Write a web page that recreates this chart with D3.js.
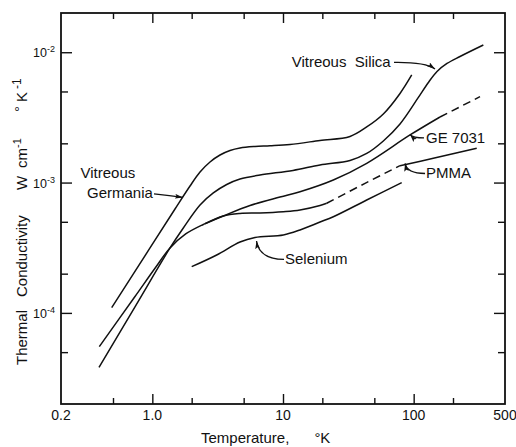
<!DOCTYPE html>
<html><head><meta charset="utf-8">
<script src="https://cdn.jsdelivr.net/npm/d3@7"></script>
<style>
body{margin:0;background:#fff;}
svg text{font-family:"Liberation Sans",Arial,sans-serif;fill:#111;}
</style></head>
<body><svg id="chart" width="516" height="447"></svg>
<script>
// ---------- data (T in K, conductivity in W cm^-1 K^-1) ----------
const germaniaT = [0.4888, 0.9598, 1.4911, 1.9427, 2.3171, 2.7634, 3.2959, 3.9309, 4.6881, 6.1067, 7.9543, 11.316, 19.199, 32.577, 43.712, 58.594, 78.627, 96.63];
const germaniaK = [1.0967e-4, 3.1492e-4, 6.2721e-4, 9.417e-4, 1.2058e-3, 1.4391e-3, 1.6282e-3, 1.7636e-3, 1.8432e-3, 1.8928e-3, 1.9163e-3, 1.9609e-3, 2.1039e-3, 2.2582e-3, 2.6709e-3, 3.3602e-3, 4.8278e-3, 6.6935e-3];

const silicaT = [0.3907, 0.7368, 1.3654, 1.7262, 2.3171, 2.9289, 3.7087, 4.6881, 6.6696, 11.93, 19.199, 32.577, 43.712, 58.594, 78.627, 107.97, 128.78, 150.92, 179.95, 226.35, 341.36];
const silicaK = [3.827e-5, 1.1143e-4, 3.1492e-4, 4.4835e-4, 6.7313e-4, 8.3218e-4, 9.67e-4, 1.0656e-3, 1.1436e-3, 1.2383e-3, 1.3648e-3, 1.4779e-3, 1.6725e-3, 2.0855e-3, 2.8159e-3, 4.4589e-3, 5.8104e-3, 7.1197e-3, 8.2006e-3, 9.2807e-3, 1.1369e-2];

const geT = [2.53, 3.4936, 5.592, 9.486, 13.497, 24.27, 43.712, 93.78, 159.1];
const geK = [4.83e-4, 5.5428e-4, 6.6715e-4, 7.75e-4, 8.51e-4, 1.047e-3, 1.406e-3, 2.318e-3, 3.186e-3];
const geDashT = [159.1, 321.9];
const geDashK = [3.186e-3, 4.561e-3];

const pmmaT = [0.3928, 0.7368, 1.0482, 1.3654, 1.8007, 2.4554, 3.4936, 4.6881, 6.6696, 10.055, 13.497, 19.199, 21.606];
const pmmaK = [5.507e-5, 1.3366e-4, 2.2006e-4, 3.1492e-4, 4.0332e-4, 4.7713e-4, 5.5428e-4, 5.7927e-4, 5.8441e-4, 5.9797e-4, 6.1623e-4, 6.6715e-4, 6.9359e-4];
const pmmaDashT = [21.606, 42.44, 78.627];
const pmmaDashK = [6.9359e-4, 9.86e-4, 1.348e-3];
const pmmaHighT = [78.627, 141.4, 303.8];
const pmmaHighK = [1.348e-3, 1.536e-3, 1.833e-3];

const seleniumT = [2.001, 3.109, 4.688, 6.107, 10.06, 13.5, 19.2, 24.27, 43.71, 81.0];
const seleniumK = [2.263e-4, 2.782e-4, 3.501e-4, 3.79e-4, 3.963e-4, 4.33e-4, 4.98e-4, 5.47e-4, 7.35e-4, 9.98e-4];

// ticks
const xLabelValues = [0.2, 1, 10, 100, 500];
const xLabelTexts = ["0.2", "1.0", "10", "100", "500"];
const xMajorTicks = [1, 10, 100];
const xMinorTicks = [0.5, 2, 5, 20, 50, 200];
const yMajorTicks = [1e-4, 1e-3, 1e-2];
const yExponents = ["-4", "-3", "-2"];
const yMinorTicks = [5e-5, 2e-4, 5e-4, 2e-3, 5e-3];

// annotations (data coordinates)
const labelTexts = ["Vitreous  Silica", "GE 7031", "PMMA", "Selenium", "Vitreous", "Germania"];
const labelT = [11.66, 124.3, 124.3, 10.36, 0.282, 0.3162];
const labelK = [7.71e-3, 2.002e-3, 1.079e-3, 2.36e-4, 1.075e-3, 7.66e-4];
// arrows: start, control, tip
const arrowSilica = [[70.7, 8.35e-3], [122.2, 8.42e-3], [145.7, 7.44e-3]];
const arrowGE = [[120.0, 2.199e-3], [98.9, 2.199e-3], [93.78, 2.338e-3]];
const arrowPMMA = [[122.2, 1.174e-3], [88.95, 1.174e-3], [85.9, 1.402e-3]];
const arrowSelenium = [[10.18, 2.57e-4], [6.55, 2.593e-4], [6.27, 3.56e-4]];
const arrowGermania = [[1.03, 8.18e-4], [1.365, 7.96e-4], [1.717, 7.69e-4]];

// ---------- drawing ----------
const svg = d3.select("#chart");
const x = d3.scaleLog().domain([0.2, 500]).range([61, 505]);
const y = d3.scaleLog().domain([2e-5, 2e-2]).range([404, 13]);
const ink = "#111";

const defs = svg.append("defs");
defs.append("marker").attr("id", "ah").attr("viewBox", "0 0 10 6")
  .attr("refX", 10).attr("refY", 3).attr("markerWidth", 8).attr("markerHeight", 5)
  .attr("markerUnits", "userSpaceOnUse").attr("orient", "auto")
  .append("path").attr("d", "M0,0 L10,3 L0,6 L2,3 z").attr("fill", ink);

function styleAxis(g) {
  g.select(".domain").remove();
  g.selectAll(".tick line").attr("stroke", ink).attr("stroke-width", 1.4);
}

// axes ticks
svg.append("g").attr("transform", `translate(0,${y.range()[0]})`)
  .call(d3.axisBottom(x).tickValues(xMajorTicks).tickSize(-10).tickFormat("")).call(styleAxis);
svg.append("g").attr("transform", `translate(0,${y.range()[0]})`)
  .call(d3.axisBottom(x).tickValues(xMinorTicks).tickSize(-6).tickFormat("")).call(styleAxis);
svg.append("g").attr("transform", `translate(0,${y.range()[1]})`)
  .call(d3.axisTop(x).tickValues(xMajorTicks).tickSize(-10).tickFormat("")).call(styleAxis);
svg.append("g").attr("transform", `translate(0,${y.range()[1]})`)
  .call(d3.axisTop(x).tickValues(xMinorTicks).tickSize(-6).tickFormat("")).call(styleAxis);
svg.append("g").attr("transform", `translate(${x.range()[0]},0)`)
  .call(d3.axisLeft(y).tickValues(yMajorTicks).tickSize(-11).tickFormat("")).call(styleAxis);
svg.append("g").attr("transform", `translate(${x.range()[0]},0)`)
  .call(d3.axisLeft(y).tickValues(yMinorTicks).tickSize(-7).tickFormat("")).call(styleAxis);
svg.append("g").attr("transform", `translate(${x.range()[1]},0)`)
  .call(d3.axisRight(y).tickValues(yMajorTicks).tickSize(-11).tickFormat("")).call(styleAxis);
svg.append("g").attr("transform", `translate(${x.range()[1]},0)`)
  .call(d3.axisRight(y).tickValues(yMinorTicks).tickSize(-7).tickFormat("")).call(styleAxis);

// frame
svg.append("rect").attr("x", x.range()[0]).attr("y", y.range()[1])
  .attr("width", x.range()[1] - x.range()[0]).attr("height", y.range()[0] - y.range()[1])
  .attr("fill", "none").attr("stroke", ink).attr("stroke-width", 1.8);

// x tick labels
svg.append("g").selectAll("text").data(xLabelValues).join("text")
  .attr("x", d => x(d)).attr("y", y.range()[0] + 15.5)
  .attr("text-anchor", "middle").attr("font-size", 14)
  .text((d, i) => xLabelTexts[i]);

// y tick labels
const yl = svg.append("g").selectAll("text").data(yMajorTicks).join("text")
  .attr("x", 55).attr("y", d => y(d) + 5).attr("text-anchor", "end").attr("font-size", 12.5);
yl.append("tspan").text("10");
yl.append("tspan").attr("dy", -5).attr("font-size", 9).text((d, i) => yExponents[i]);

// axis titles
const xt = svg.append("text").attr("x", 201).attr("y", 442.5).attr("font-size", 15)
  .style("white-space", "pre");
xt.append("tspan").text("Temperature,");
xt.append("tspan").attr("dx", 25).text("°K");

const yt = svg.append("g").attr("transform", "translate(27,0) rotate(-90)");
yt.append("text").attr("x", -365).attr("y", 0).attr("font-size", 15).text("Thermal");
yt.append("text").attr("x", -297).attr("y", 0).attr("font-size", 15).text("Conductivity");
yt.append("text").attr("x", -190).attr("y", 0).attr("font-size", 15).text("W");
const cm = yt.append("text").attr("x", -168).attr("y", 0).attr("font-size", 15);
cm.append("tspan").text("cm");
cm.append("tspan").attr("dy", -6).attr("font-size", 11).text("-1");
const kk = yt.append("text").attr("x", -112).attr("y", 0).attr("font-size", 15);
kk.append("tspan").attr("dy", -2).text("°");
kk.append("tspan").attr("dy", 2).attr("dx", 4).text("K");
kk.append("tspan").attr("dy", -6).attr("dx", 3).attr("font-size", 12).text("-1");

// curves
const line = d3.line().x(d => x(d[0])).y(d => y(d[1])).curve(d3.curveCatmullRom.alpha(0.5));
const zip = (a, b) => a.map((v, i) => [v, b[i]]);
const series = [
  [germaniaT, germaniaK, false],
  [silicaT, silicaK, false],
  [geT, geK, false],
  [geDashT, geDashK, true],
  [pmmaT, pmmaK, false],
  [pmmaDashT, pmmaDashK, true],
  [pmmaHighT, pmmaHighK, false],
  [seleniumT, seleniumK, false]
];
svg.append("g").selectAll("path").data(series).join("path")
  .attr("d", d => line(zip(d[0], d[1])))
  .attr("fill", "none").attr("stroke", ink).attr("stroke-width", 1.5)
  .attr("stroke-dasharray", d => d[2] ? "8,5" : null);

// annotations
svg.append("g").selectAll("text").data(labelTexts).join("text")
  .attr("x", (d, i) => x(labelT[i])).attr("y", (d, i) => y(labelK[i]))
  .attr("font-size", 15).style("white-space", "pre").text(d => d);

const arrows = [arrowSilica, arrowGE, arrowPMMA, arrowSelenium, arrowGermania];
svg.append("g").selectAll("path").data(arrows).join("path")
  .attr("d", a => {
    const p = a.map(q => [x(q[0]), y(q[1])]);
    return `M${p[0][0]},${p[0][1]} Q${p[1][0]},${p[1][1]} ${p[2][0]},${p[2][1]}`;
  })
  .attr("fill", "none").attr("stroke", ink).attr("stroke-width", 1.3)
  .attr("marker-end", "url(#ah)");
</script>
</body></html>
